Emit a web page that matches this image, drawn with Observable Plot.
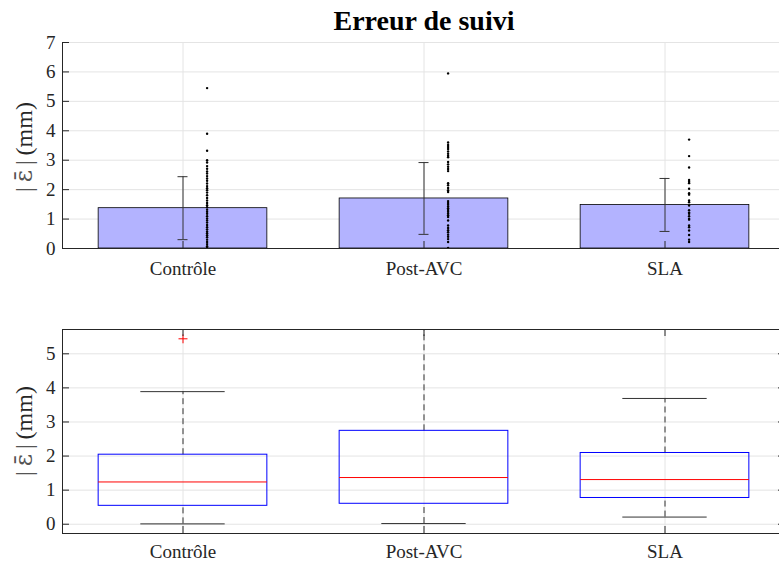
<!DOCTYPE html>
<html><head><meta charset="utf-8">
<script src="https://cdn.jsdelivr.net/npm/d3@7"></script>
<script src="https://cdn.jsdelivr.net/npm/@observablehq/plot@0.6"></script>
<style>
body{margin:0;background:#fff;}
#wrap{position:relative;width:779px;height:562px;overflow:hidden;font-family:"Liberation Serif","Times New Roman",serif;}
#title{position:absolute;left:62px;width:724px;top:5px;text-align:center;font-weight:bold;font-size:28px;color:#000;line-height:31px;}
#top,#bot{position:absolute;left:0;}
#top{top:0}
#bot{top:290px}
svg text{font-family:"Liberation Serif","Times New Roman",serif;}
</style></head><body>
<div id="wrap"><div id="title">Erreur de suivi</div><div id="top"></div><div id="bot"></div></div>
<script>
// ---- data ----
const groups = ["Contrôle", "Post-AVC", "SLA"];
const means = [1.37, 1.70, 1.48];
const sds = [1.07, 1.22, 0.90];
const ptsControle = [5.45, 3.90, 3.32, 3.00, 2.92, 2.80, 2.71, 2.62, 2.55, 2.46, 2.38, 2.30, 2.21, 2.12, 2.05, 1.98, 1.90, 1.81, 1.72, 1.63, 1.55, 1.47, 1.40, 1.32, 1.25, 1.18, 1.10, 1.02, 0.95, 0.88, 0.80, 0.72, 0.65, 0.58, 0.52, 0.45, 0.38, 0.30, 0.22, 0.15, 0.08, 0.02];
const ptsPostAVC = [5.95, 3.60, 3.52, 3.45, 3.38, 3.30, 3.22, 3.15, 3.10, 2.94, 2.86, 2.78, 2.70, 2.63, 2.22, 2.15, 2.06, 1.98, 1.92, 1.61, 1.55, 1.49, 1.43, 1.37, 1.31, 1.25, 1.19, 1.13, 1.07, 0.95, 0.78, 0.70, 0.62, 0.55, 0.47, 0.40, 0.32, 0.22, 0.02];
const ptsSLA = [3.70, 3.14, 2.75, 2.33, 2.27, 2.22, 2.03, 1.88, 1.83, 1.63, 1.57, 1.46, 1.30, 1.22, 1.18, 1.10, 1.01, 0.98, 0.78, 0.72, 0.61, 0.46, 0.30, 0.22];
const q1 = [0.54, 0.60, 0.77];
const medians = [1.24, 1.37, 1.31];
const q3 = [2.04, 2.74, 2.09];
const whiskerLo = [0.01, 0.02, 0.21];
const whiskerHi = [3.89, 5.95, 3.69];
const outlierGroup = [1];
const outlierValue = [5.44];
const yTicksTop = [0, 1, 2, 3, 4, 5, 6, 7];
const yTicksBot = [0, 1, 2, 3, 4, 5];

// ---- tables ----
const idx = [1, 2, 3];
const barData = idx.map(i => ({i, mean: means[i-1], sd: sds[i-1]}));
const points = [];
[ptsControle, ptsPostAVC, ptsSLA].forEach((arr, k) => arr.forEach(v => points.push({i: k+1, v})));
const boxData = idx.map(i => ({i, q1: q1[i-1], med: medians[i-1], q3: q3[i-1], lo: whiskerLo[i-1], hi: whiskerHi[i-1]}));
const outliers = outlierGroup.map((g, k) => ({i: g, v: outlierValue[k]}));

const gridC = "#e4e4e4", axC = "#262626";
const font = '"Liberation Serif","Times New Roman",serif';
const XR = [62, 785];
const pxPerX = (XR[1]-XR[0]) / 3;
const FS = 19;

function yLabel(svg, cy) {
  const t = d3.select(svg).append("text")
    .attr("transform", `translate(32,${cy}) rotate(-90)`)
    .attr("text-anchor", "middle")
    .attr("font-family", font).attr("font-size", 24).attr("fill", axC);
  t.append("tspan").attr("fill", "#555").text("|\u2009");
  t.append("tspan").attr("font-family", '"DejaVu Serif", serif').attr("font-size", 24).attr("fill", "#555").text("\u03B5\u0304");
  t.append("tspan").attr("fill", "#555").text("\u2009|");
  t.append("tspan").text("\u2009(mm)");
}

// ---- top: bars ----
const topDom = [0, 7], topRange = [248, 42];
const tickTop = 7 * (topDom[1]-topDom[0]) / (topRange[0]-topRange[1]);
const topPlot = Plot.plot({
  width: 779, height: 290, marginLeft: 0, marginRight: 0, marginTop: 0, marginBottom: 0,
  style: {fontFamily: font, fontSize: FS + "px", color: axC, background: "transparent", overflow: "visible"},
  x: {domain: [0.5, 3.5], range: XR, axis: null},
  y: {domain: topDom, range: topRange, axis: null},
  marks: [
    Plot.ruleY(yTicksTop, {y: d => d, x1: () => 0.5, x2: () => 3.5, stroke: gridC}),
    Plot.ruleX(idx, {x: d => d, y1: () => 0, y2: () => 7, stroke: gridC}),
    Plot.rect(barData, {x1: d => d.i - 0.35, x2: d => d.i + 0.35, y1: () => 0, y2: "mean", fill: "#b3b3ff", stroke: "#000", strokeWidth: 0.8}),
    Plot.ruleX(barData, {x: "i", y1: d => d.mean - d.sd, y2: d => d.mean + d.sd, stroke: "#333"}),
    Plot.ruleY(barData, {y: d => d.mean + d.sd, x1: d => d.i - 5/pxPerX, x2: d => d.i + 5/pxPerX, stroke: "#333"}),
    Plot.ruleY(barData, {y: d => d.mean - d.sd, x1: d => d.i - 5/pxPerX, x2: d => d.i + 5/pxPerX, stroke: "#333"}),
    Plot.dot(points, {x: d => d.i + 0.1, y: "v", r: 1.2, fill: "#000", stroke: null}),
    Plot.ruleX([0.5], {x: d => d, y1: () => 0, y2: () => 7, stroke: axC}),
    Plot.ruleY([0], {y: d => d, x1: () => 0.5, x2: () => 3.5, stroke: axC}),
    Plot.ruleY(yTicksTop, {y: d => d, x1: () => 0.5, x2: () => 0.5 + 7/pxPerX, stroke: axC}),
    Plot.ruleX(idx, {x: d => d, y1: () => 0, y2: () => tickTop, stroke: axC}),
    Plot.text(yTicksTop, {x: () => 0.5, y: d => d, text: d => String(d), dx: -7, textAnchor: "end", fill: axC, fontFamily: font, fontSize: FS}),
    Plot.text(idx, {x: d => d, y: () => 0, text: d => groups[d-1], dy: 20, fill: axC, fontFamily: font, fontSize: FS})
  ]
});
document.getElementById("top").appendChild(topPlot);
yLabel(topPlot, 147);

// ---- bottom: boxplot ----
const botDom = [-0.272, 5.713], botRange = [243, 39];
const tickBot = 7 * (botDom[1]-botDom[0]) / (botRange[0]-botRange[1]);
const clampHi = v => Math.min(v, botDom[1]);
const botPlot = Plot.plot({
  width: 779, height: 272, marginLeft: 0, marginRight: 0, marginTop: 0, marginBottom: 0,
  style: {fontFamily: font, fontSize: FS + "px", color: axC, background: "transparent", overflow: "visible"},
  x: {domain: [0.5, 3.5], range: XR, axis: null},
  y: {domain: botDom, range: botRange, axis: null},
  marks: [
    Plot.ruleY(yTicksBot, {y: d => d, x1: () => 0.5, x2: () => 3.5, stroke: gridC}),
    Plot.ruleX(idx, {x: d => d, y1: () => botDom[0], y2: () => botDom[1], stroke: gridC}),
    Plot.ruleX(boxData, {x: "i", y1: "q3", y2: d => clampHi(d.hi), stroke: "#333", strokeDasharray: "6,4"}),
    Plot.ruleX(boxData, {x: "i", y1: "lo", y2: "q1", stroke: "#333", strokeDasharray: "6,4"}),
    Plot.ruleY(boxData.filter(d => d.hi <= botDom[1]), {y: "hi", x1: d => d.i - 0.175, x2: d => d.i + 0.175, stroke: "#333"}),
    Plot.ruleY(boxData, {y: "lo", x1: d => d.i - 0.175, x2: d => d.i + 0.175, stroke: "#333"}),
    Plot.rect(boxData, {x1: d => d.i - 0.35, x2: d => d.i + 0.35, y1: "q1", y2: "q3", fill: "none", stroke: "#0000ff"}),
    Plot.ruleY(boxData, {y: "med", x1: d => d.i - 0.35, x2: d => d.i + 0.35, stroke: "#ff0000"}),
    Plot.dot(outliers, {x: "i", y: "v", symbol: "plus", r: 3, stroke: "#ff0000", strokeWidth: 1}),
    Plot.ruleX([0.5], {x: d => d, y1: () => botDom[0], y2: () => botDom[1], stroke: axC}),
    Plot.ruleY([botDom[0], botDom[1]], {y: d => d, x1: () => 0.5, x2: () => 3.5, stroke: axC}),
    Plot.ruleY(yTicksBot, {y: d => d, x1: () => 0.5, x2: () => 0.5 + 7/pxPerX, stroke: axC}),
    Plot.ruleY(yTicksBot, {y: d => d, x1: () => 3.5 - 7/pxPerX, x2: () => 3.5, stroke: axC}),
    Plot.ruleX(idx, {x: d => d, y1: () => botDom[0], y2: () => botDom[0] + tickBot, stroke: axC}),
    Plot.ruleX(idx, {x: d => d, y1: () => botDom[1] - tickBot, y2: () => botDom[1], stroke: axC}),
    Plot.text(yTicksBot, {x: () => 0.5, y: d => d, text: d => String(d), dx: -7, textAnchor: "end", fill: axC, fontFamily: font, fontSize: FS}),
    Plot.text(idx, {x: d => d, y: () => botDom[0], text: d => groups[d-1], dy: 18, fill: axC, fontFamily: font, fontSize: FS})
  ]
});
document.getElementById("bot").appendChild(botPlot);
yLabel(botPlot, 141);
</script>
</body></html>
